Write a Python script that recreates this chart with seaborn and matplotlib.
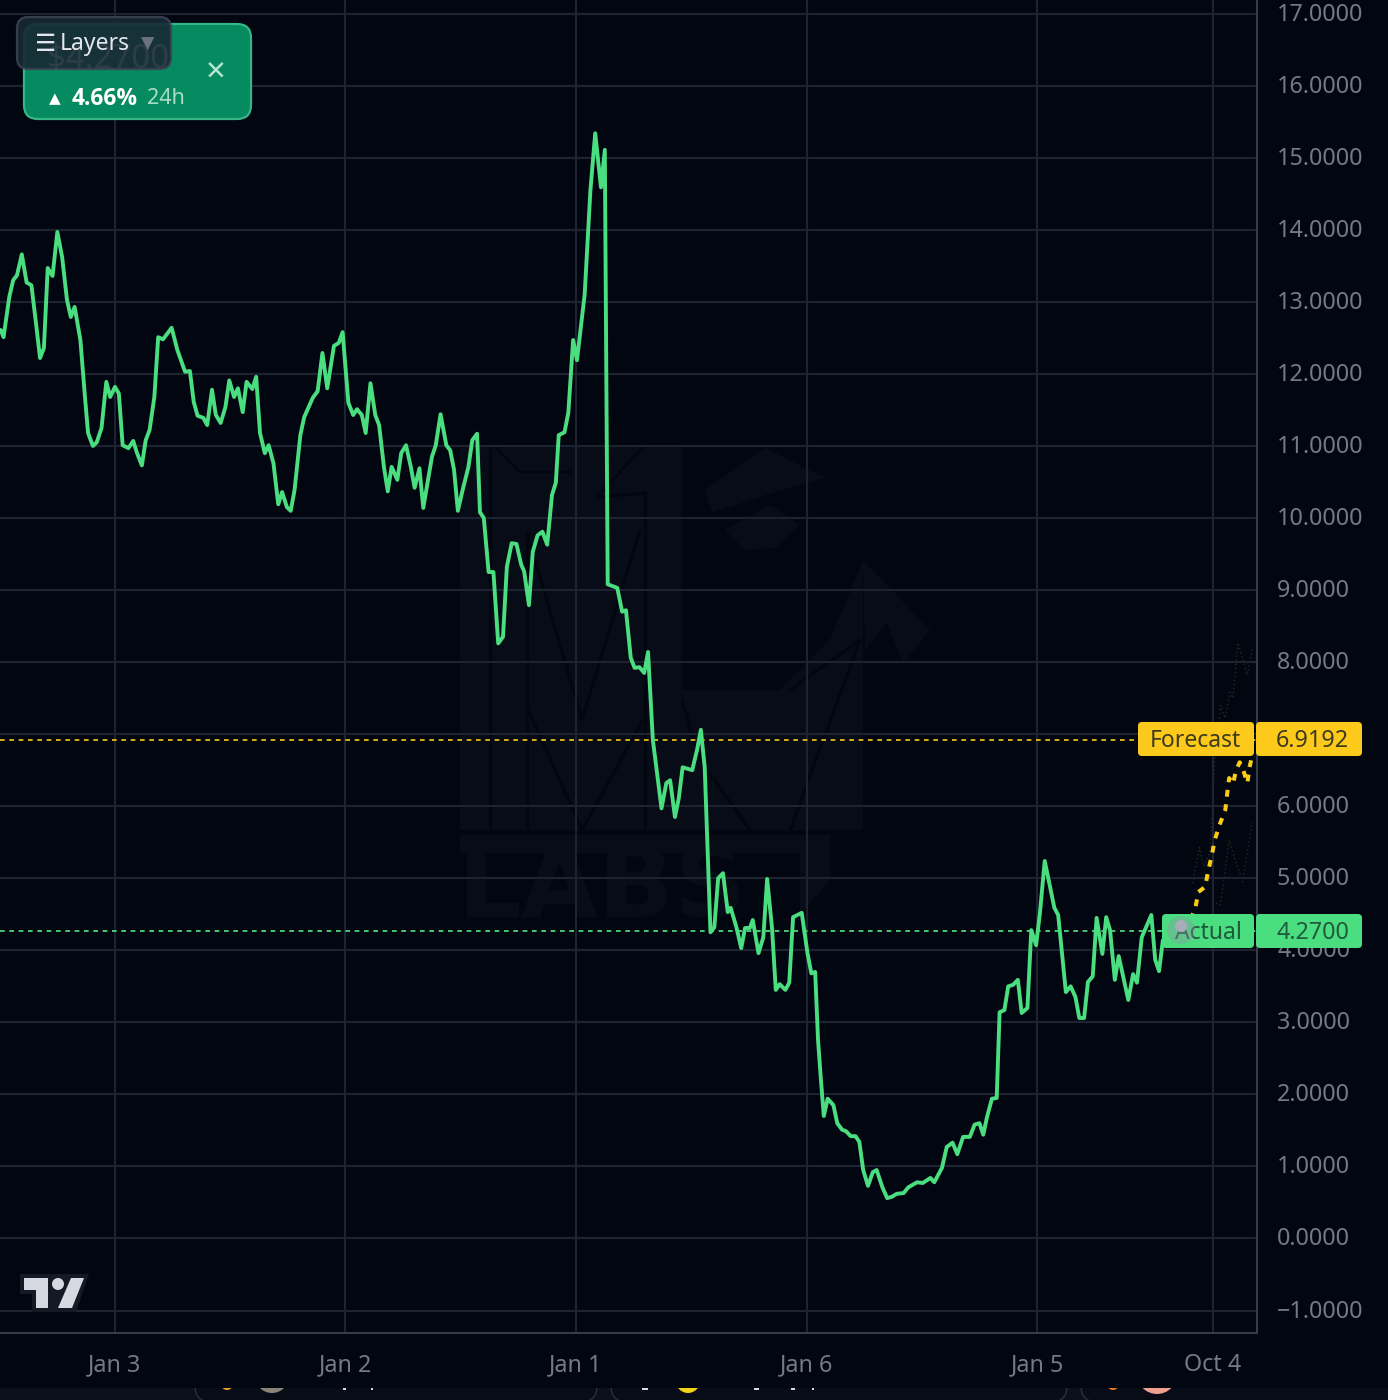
import matplotlib
matplotlib.use("Agg")
import matplotlib.pyplot as plt
from matplotlib.patches import FancyBboxPatch, Circle, Polygon, Rectangle
from matplotlib.transforms import ScaledTranslation
import seaborn as sns

# hours counted from the first date tick on the axis
actual_hours = [-11.9, -11.6, -11.0, -10.6, -10.2, -9.7, -9.2, -8.7, -8.3, -7.8, -7.4, -7.0, -6.5, -6.0, -5.5, -5.0,
                -4.6, -4.2, -3.6, -3.1, -2.8, -2.3, -1.9, -1.4, -0.9, -0.5, 0.0, 0.4, 0.8, 1.4, 1.9, 2.3, 2.8, 3.2,
                3.6, 4.1, 4.5, 5.0, 5.9, 6.5, 7.3, 7.8, 8.2, 8.6, 9.2, 9.6, 10.1, 10.5, 11.0, 11.5, 11.9, 12.4, 12.8,
                13.3, 13.7, 14.3, 14.7, 15.1, 15.6, 16.0, 16.5, 17.0, 17.4, 17.9, 18.3, 18.7, 19.3, 19.7, 20.6, 21.1,
                21.6, 22.1, 22.8, 23.3, 23.7, 24.3, 24.8, 25.2, 25.7, 26.1, 26.6, 27.1, 27.5, 28.0, 28.4, 28.8, 29.4,
                29.8, 30.3, 30.8, 31.2, 31.7, 32.1, 33.0, 33.4, 33.9, 34.5, 34.9, 35.3, 35.7, 36.2, 36.8, 37.2, 37.7,
                38.0, 38.4, 38.9, 39.4, 39.9, 40.4, 40.8, 41.3, 41.8, 42.3, 42.6, 43.1, 43.5, 44.0, 44.5, 45.0, 45.5,
                45.9, 46.2, 46.8, 47.2, 47.7, 48.1, 48.9, 49.5, 50.0, 50.6, 51.0, 51.3, 52.3, 52.8, 53.2, 53.7, 54.1,
                54.6, 55.1, 55.5, 56.0, 56.9, 57.4, 57.8, 58.3, 58.7, 59.1, 60.1, 60.6, 61.0, 61.4, 62.0, 62.4, 62.8,
                63.3, 63.8, 64.1, 64.7, 65.2, 65.6, 66.1, 66.4, 67.0, 67.5, 67.9, 68.4, 68.8, 69.2, 69.8, 70.2, 70.6,
                71.5, 72.1, 72.5, 72.9, 73.2, 73.5, 73.8, 74.2, 74.8, 75.2, 75.7, 76.1, 76.6, 77.1, 77.5, 77.9, 78.4,
                78.9, 79.3, 79.9, 80.4, 80.9, 81.4, 82.1, 82.6, 83.5, 84.1, 84.9, 85.3, 86.1, 86.6, 87.2, 87.7, 88.3,
                89.0, 89.5, 90.0, 90.4, 90.8, 91.3, 91.8, 92.1, 92.6, 93.0, 93.5, 94.0, 94.4, 95.0, 95.4, 95.9, 96.3,
                96.8, 97.8, 98.2, 99.0, 99.5, 100.0, 100.4, 100.9, 101.3, 101.8, 102.2, 102.8, 103.2, 103.6, 104.1,
                104.5, 105.5, 106.0, 106.4, 106.9, 107.9, 108.3, 108.7, 109.1, 111.0]
actual_price = [12.61, 12.51, 13.07, 13.30, 13.37, 13.66, 13.27, 13.23, 12.79, 12.22, 12.36, 13.47, 13.36, 13.97, 13.62,
                13.03, 12.79, 12.93, 12.47, 11.64, 11.18, 11.00, 11.05, 11.25, 11.89, 11.68, 11.82, 11.73, 11.01, 10.97,
                11.07, 10.90, 10.73, 11.08, 11.22, 11.68, 12.51, 12.48, 12.64, 12.33, 12.03, 12.04, 11.61, 11.42, 11.39,
                11.29, 11.78, 11.43, 11.32, 11.54, 11.91, 11.68, 11.80, 11.47, 11.89, 11.79, 11.96, 11.18, 10.90, 11.01,
                10.76, 10.19, 10.36, 10.15, 10.10, 10.39, 11.15, 11.40, 11.67, 11.76, 12.29, 11.80, 12.39, 12.43, 12.58,
                11.60, 11.43, 11.51, 11.43, 11.18, 11.87, 11.43, 11.29, 10.71, 10.37, 10.71, 10.53, 10.90, 11.01, 10.71,
                10.42, 10.69, 10.14, 10.85, 11.01, 11.44, 11.01, 10.94, 10.67, 10.10, 10.39, 10.71, 11.08, 11.17, 10.08,
                10.00, 9.25, 9.25, 8.26, 8.35, 9.32, 9.65, 9.64, 9.35, 9.26, 8.79, 9.53, 9.76, 9.81, 9.63, 10.32, 10.49,
                11.15, 11.19, 11.46, 12.47, 12.19, 13.10, 14.55, 15.34, 14.59, 15.11, 9.08, 9.03, 8.70, 8.72, 8.06, 7.92,
                7.93, 7.85, 8.14, 6.92, 5.97, 6.32, 6.36, 5.85, 6.11, 6.54, 6.50, 6.78, 7.06, 6.54, 4.25, 4.32, 5.00, 5.07,
                4.53, 4.59, 4.32, 4.03, 4.31, 4.31, 4.42, 3.96, 4.18, 4.99, 4.32, 3.45, 3.53, 3.45, 3.55, 4.46, 4.52, 3.96,
                3.68, 3.70, 2.75, 2.20, 1.70, 1.94, 1.85, 1.60, 1.51, 1.49, 1.42, 1.42, 1.34, 0.95, 0.73, 0.92, 0.95, 0.71,
                0.56, 0.58, 0.62, 0.63, 0.71, 0.78, 0.77, 0.84, 0.78, 0.98, 1.27, 1.33, 1.17, 1.41, 1.41, 1.58, 1.60, 1.44,
                1.69, 1.94, 1.95, 3.14, 3.17, 3.50, 3.52, 3.59, 3.13, 3.20, 4.28, 4.07, 4.52, 5.24, 4.59, 4.49, 3.42, 3.50,
                3.35, 3.06, 3.06, 3.56, 3.64, 4.45, 3.95, 4.46, 4.28, 3.59, 3.92, 3.31, 3.67, 3.55, 4.18, 4.49, 3.87, 3.71,
                4.14, 4.27]

forecast_hours = [111.0, 112.1, 112.5, 112.8, 113.5, 113.8, 114.2, 114.5, 115.0, 115.6, 115.8, 116.0, 116.4, 116.7,
                  117.1, 117.4, 117.9, 118.1, 118.4]
forecast_price = [4.27, 4.46, 4.60, 4.81, 4.88, 5.09, 5.32, 5.53, 5.74, 5.95, 6.18, 6.39, 6.31, 6.49, 6.61, 6.53, 6.32,
                  6.53, 6.70]

upper_hours = [112.2, 112.9, 113.3, 114.0, 114.5, 115.1, 115.6, 116.1, 116.4, 116.9, 117.9, 118.4]
upper_price = [4.93, 5.43, 5.16, 5.35, 6.64, 7.40, 7.22, 7.58, 7.50, 8.27, 7.82, 8.17]
lower_hours = [114.2, 115.1, 116.0, 116.6, 117.4, 118.4]
lower_price = [4.67, 4.63, 5.53, 5.27, 4.95, 5.78]

forecast_level = 6.9192
actual_level = 4.27

date_ticks = [0, 24, 48, 72, 96, 114.3]
date_labels = ["Jan 3", "Jan 2", "Jan 1", "Jan 6", "Jan 5", "Oct 4"]
price_ticks = list(range(-1, 18))

BG = "#020611"
GRID = "#1d2330"
AXIS = "#343b4a"
TICK = "#747986"
GREEN = "#4ade80"
YELLOW = "#facc15"

sns.set_theme(style="dark", rc={"figure.facecolor": BG, "axes.facecolor": "none", "savefig.facecolor": BG})
plt.rcParams["font.family"] = ["Noto Sans", "DejaVu Sans"]

fig = plt.figure(figsize=(13.88, 14), dpi=100)


def pixel_axes(zorder):
    # full figure axes in picture pixels, for the chart's chrome
    a = fig.add_axes([0, 0, 1, 1], zorder=zorder, facecolor="none")
    a.set_xlim(0, 1388)
    a.set_ylim(1400, 0)
    a.axis("off")
    return a


# faint watermark goes under the chart
under = pixel_axes(0)
mark = "#080c16"
for pts in [
    [(460, 445), (682, 445), (682, 830), (460, 830)],
    [(682, 690), (780, 690), (830, 640), (863, 560), (863, 830), (682, 830)],
    [(705, 490), (765, 448), (825, 478), (775, 492), (735, 505), (712, 512)],
    [(725, 530), (770, 505), (800, 525), (775, 548), (745, 550)],
    [(863, 560), (930, 630), (903, 663), (887, 623), (865, 650)],
    [(460, 835), (800, 835), (800, 853), (460, 853)],
    [(800, 835), (830, 835), (830, 880), (800, 915)],
]:
    under.add_patch(Polygon(pts, closed=True, facecolor=mark, edgecolor="none"))
for xs, ys in [
    ([490, 490], [445, 828]),
    ([527, 527], [533, 828]),
    ([645, 645], [493, 828]),
    ([527, 582, 640], [533, 720, 530]),
    ([527, 582, 643], [707, 830, 720]),
    ([495, 520, 570], [447, 472, 472]),
    ([643, 597, 645], [447, 497, 493]),
    ([750, 700, 682], [830, 760, 700]),
    ([790, 860, 790], [830, 640, 690]),
]:
    under.plot(xs, ys, color=BG, linewidth=2.2)
under.text(458, 890, "LABS", color=mark, fontsize=72, fontweight="bold", family="DejaVu Sans", va="center", ha="left")

# price axis box ends at x=1257, date axis at y=1333
ax = fig.add_axes([0, (1400 - 1333) / 1400, 1257 / 1388, 1333 / 1400], zorder=1)
ax.set_facecolor("none")

sns.lineplot(x=upper_hours, y=upper_price, ax=ax, color="#24251c", linewidth=1.1, linestyle=":", estimator=None)
sns.lineplot(x=lower_hours, y=lower_price, ax=ax, color="#24251c", linewidth=1.1, linestyle=":", estimator=None)
ax.axhline(forecast_level, color=YELLOW, linewidth=1.4, linestyle=(0, (2.4, 2.4)), alpha=0.85)
ax.axhline(actual_level, color=GREEN, linewidth=1.4, linestyle=(0, (2.4, 2.4)), alpha=0.9)
sns.lineplot(x=actual_hours, y=actual_price, ax=ax, color=GREEN, linewidth=2.8, estimator=None)
sns.lineplot(x=forecast_hours, y=forecast_price, ax=ax, color=YELLOW, linewidth=2.9, linestyle=(0, (1.7, 1.9)),
             estimator=None)

ax.set_xlim(-11.97, 118.9)
ax.set_ylim(-1.312, 17.19)
ax.set_xticks(date_ticks)
ax.set_xticklabels(date_labels)
ax.set_yticks(price_ticks)
ax.set_yticklabels([f"{v:.4f}".replace("-", "\u2212") for v in price_ticks])
ax.yaxis.tick_right()
ax.grid(True, color=GRID, linewidth=1.5)
ax.set_axisbelow(True)
ax.tick_params(axis="y", length=0, pad=14.4, labelsize=16.8, labelcolor=TICK)
ax.tick_params(axis="x", length=0, pad=14.5, labelsize=16.8, labelcolor=TICK)
lift = ScaledTranslation(0, 2 / 100, fig.dpi_scale_trans)
for tick in ax.yaxis.get_major_ticks():
    tick.label2.set_transform(tick.label2.get_transform() + lift)
for name, spine in ax.spines.items():
    spine.set_visible(name in ("right", "bottom"))
    spine.set_color(AXIS)
    spine.set_linewidth(1.5)

# everything drawn on top of the chart
top = pixel_axes(2)


def round_box(x0, y0, x1, y1, color, edge="none", r=4, lw=0, alpha=1.0, zorder=2):
    top.add_patch(FancyBboxPatch((x0 + r, y0 + r), x1 - x0 - 2 * r, y1 - y0 - 2 * r,
                                 boxstyle=f"round,pad={r},rounding_size={r}", facecolor=color, edgecolor=edge,
                                 linewidth=lw, alpha=alpha, zorder=zorder))


# price tags
label_dark = "#3d3a1e"
round_box(1138, 722, 1254, 756, "#fdc91a")
round_box(1256, 722, 1362, 756, "#fdc91a")
top.text(1150, 741, "Forecast", color=label_dark, fontsize=16.5, va="center", ha="left")
top.text(1349, 741, f"{forecast_level:.4f}", color=label_dark, fontsize=16.8, va="center", ha="right")
round_box(1162, 914, 1254, 948, GREEN)
round_box(1256, 914, 1362, 948, GREEN)
top.text(1242, 933, "Actual", color="#1f5a3c", fontsize=16.5, va="center", ha="right")
top.text(1349, 933, f"{actual_level:.4f}", color="#1f5a3c", fontsize=16.8, va="center", ha="right")
top.add_patch(Circle((1181, 930), 14, facecolor="#8f93a3", alpha=0.38, edgecolor="none", zorder=4))
top.add_patch(Circle((1181, 926), 6, facecolor="#a9abba", edgecolor="none", zorder=4))

# price card and layers button
round_box(24, 24, 251, 119, "#068a5f", edge="#36b585", r=14, lw=1.6)
top.text(47, 60, "$4.2700", color="#ffffff", fontsize=23.7, va="center", ha="left", zorder=3)
round_box(17, 17, 171, 69, "#182a35", edge="#3b4254", r=11, lw=1.6, alpha=0.91, zorder=4)
top.text(35, 44, "\u2630", color="#e4e6ee", fontsize=17, fontweight="bold", family="DejaVu Sans", va="center",
         ha="left", zorder=5)
top.text(60, 44, "Layers", color="#e4e6ee", fontsize=16.5, va="center", ha="left", zorder=5)
top.text(141, 44, "\u25bc", color="#6c7180", fontsize=12.5, family="DejaVu Sans", va="center", ha="left", zorder=5)
top.text(49, 99, "\u25b2", color="#ffffff", fontsize=11, family="DejaVu Sans", va="center", ha="left", zorder=5)
top.text(72, 99, "4.66%", color="#ffffff", fontsize=16.5, fontweight="bold", family="Open Sans", va="center",
         ha="left", zorder=5)
top.text(147, 99, "24h", color="#a9dcc6", fontsize=15.5, va="center", ha="left", zorder=5)
top.text(216, 74, "\u00d7", color="#b7e4d1", fontsize=25, va="center", ha="center", zorder=5)

# TradingView mark
top.add_patch(Polygon([(20, 1274), (89, 1274), (76, 1312), (32, 1312), (32, 1294), (20, 1294)], facecolor="#151924",
                      edgecolor="none"))
top.add_patch(Polygon([(24, 1278), (48, 1278), (48, 1308), (36, 1308), (36, 1290), (24, 1290)], facecolor="#d6d8e2",
                      edgecolor="none"))
top.add_patch(Circle((58, 1284), 6, facecolor="#d6d8e2", edgecolor="none"))
top.add_patch(Polygon([(71, 1278), (84, 1278), (72, 1308), (58, 1308)], facecolor="#d6d8e2", edgecolor="none"))

# strip of the page under the chart, only the bottom edge of its cards shows
strip = Rectangle((0, 1388), 1388, 12, transform=top.transData)
top.add_patch(Rectangle((0, 1388), 1388, 12, facecolor="#0b0f1a", edgecolor="none"))
for x0, x1 in [(195, 597), (611, 1067), (1081, 1500)]:
    card = top.add_patch(FancyBboxPatch((x0 + 16, 1346), x1 - x0 - 32, 40, boxstyle="round,pad=16,rounding_size=16",
                                        facecolor="#080c17", edgecolor="#262c3b", linewidth=1.2))
    card.set_clip_path(strip)
for x, y, r, c in [(227, 1384, 6, "#e8a020"), (272, 1376, 17, "#8a8378"), (688, 1381, 12, "#f2d21a"),
                   (688, 1378, 9, "#d8a0b0"), (1113, 1384, 6, "#e87a20"), (1157, 1374, 20, "#f0a090")]:
    icon = top.add_patch(Circle((x, y), r, facecolor=c, edgecolor="none", zorder=3))
    icon.set_clip_path(strip)
for x, w in [(343, 3), (371, 2), (642, 6), (754, 5), (791, 4), (812, 2)]:
    top.add_patch(Rectangle((x, 1388), w, 2, facecolor="#d8dae2", edgecolor="none", zorder=3))

fig.savefig("out.png", dpi=100)
